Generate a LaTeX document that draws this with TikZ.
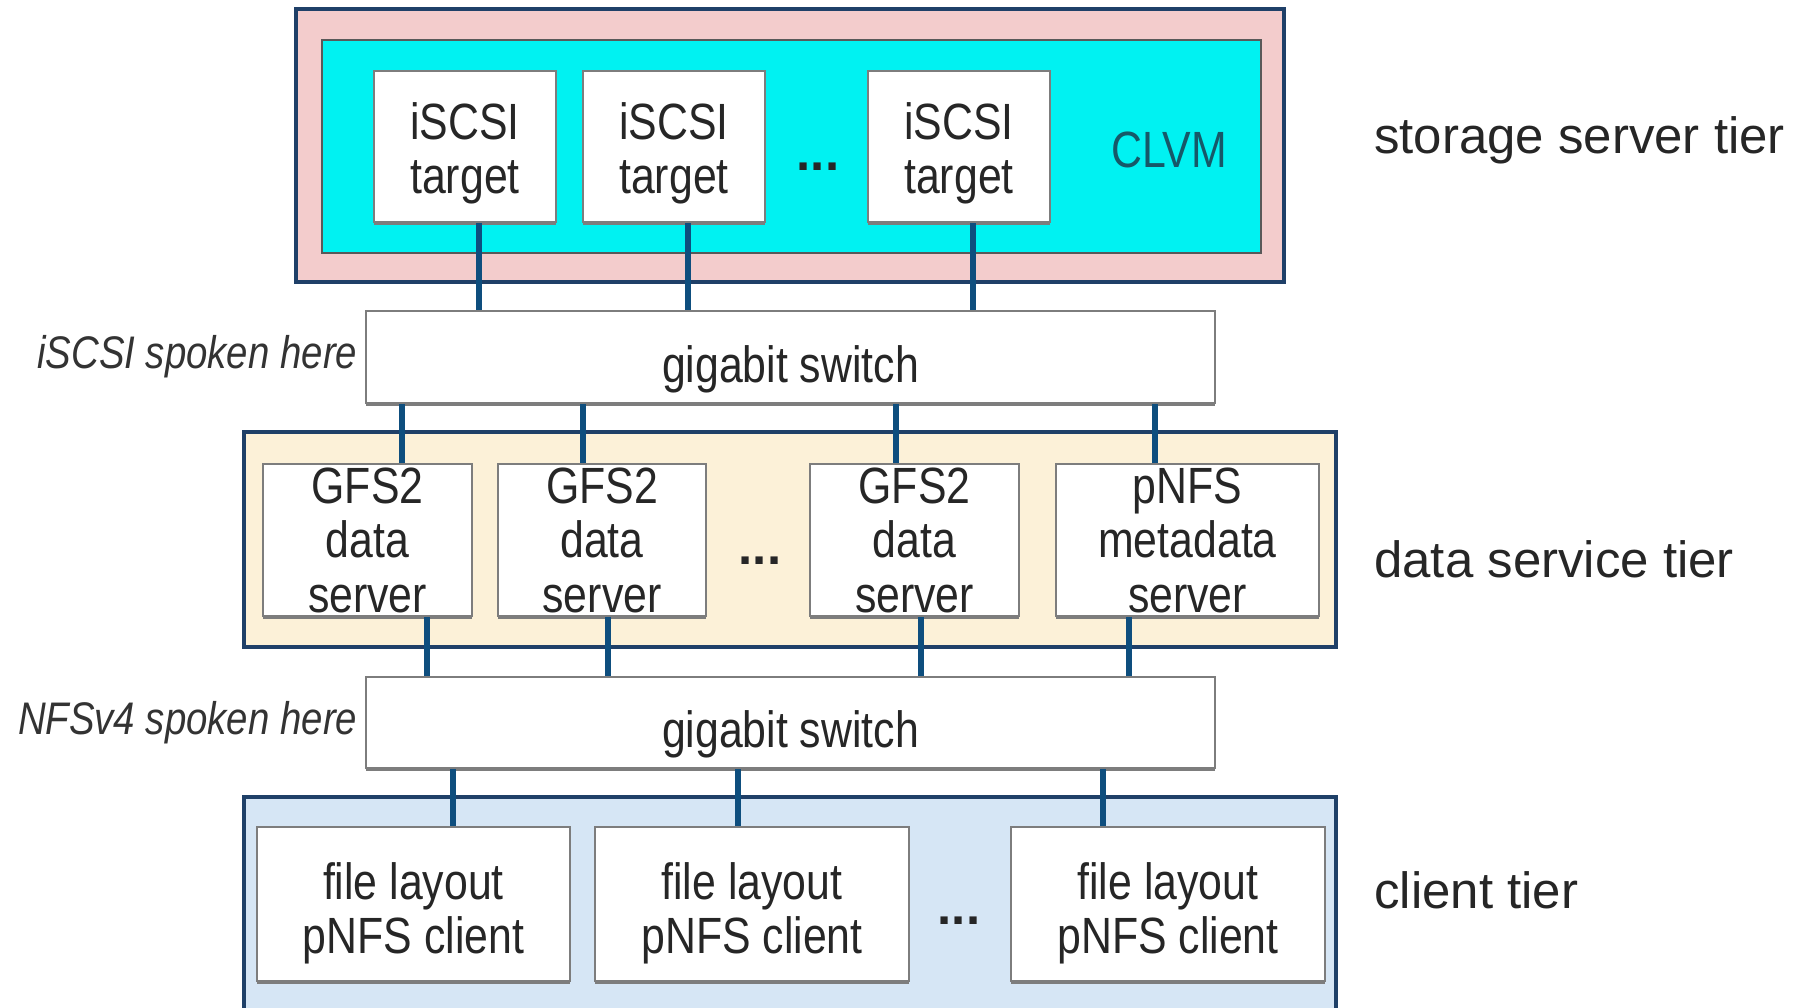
\documentclass[tikz,border=0pt]{standalone}
\usepackage{fontspec}
\setmainfont{Liberation Sans}
\newfontfamily\narrowfont[FakeStretch=0.84]{Liberation Sans}
\usetikzlibrary{positioning,shadows}

\definecolor{tiernavy}{RGB}{31,64,104}
\definecolor{linkblue}{RGB}{14,78,126}
\definecolor{storepink}{RGB}{243,204,204}
\definecolor{lvmcyan}{RGB}{0,242,242}
\definecolor{datacream}{RGB}{252,241,216}
\definecolor{clientblue}{RGB}{214,230,245}
\definecolor{boxgray}{RGB}{125,125,125}
\definecolor{clvmteal}{RGB}{22,88,104}

% taller first line, pushes the box text down a bit
\newcommand\capstrut[1]{\rule{0pt}{#1}}

\tikzset{
  tier/.style={draw=tiernavy, line width=2.8pt},
  unit/.style={draw=boxgray, fill=white, line width=1.6pt, align=center, inner sep=0pt,
    font=\narrowfont\fontsize{29}{31}\selectfont, text=black!85,
    drop shadow={shadow xshift=0pt, shadow yshift=-1.8pt, fill=boxgray, opacity=1}},
  link/.style={draw=linkblue, line width=3.4pt},
  dots/.style={font=\fontsize{29}{31}\selectfont\bfseries, text=black!85},
  tierlabel/.style={anchor=west, font=\fontsize{29}{31}\selectfont, text=black!85},
  spoken/.style={font=\narrowfont\itshape\fontsize{26}{28}\selectfont, text=black!80, inner sep=1pt},
}

\begin{document}
\begin{tikzpicture}
    \useasboundingbox (0,0) rectangle (36.12,-20.16);
    \clip (0,0) rectangle (36.12,-20.16);

    % storage server tier: iSCSI targets inside CLVM
    \draw[tier, fill=storepink] (5.92,-0.18) rectangle (25.68,-5.64);
    \draw[draw=gray!70!black, line width=1.6pt, fill=lvmcyan] (6.44,-0.80) rectangle (25.22,-5.06);
    \node[unit, minimum width=3.64cm, minimum height=3.02cm] (t1) at (9.30,-2.93) {\capstrut{29pt}iSCSI\\target};
    \node[unit, minimum width=3.64cm, minimum height=3.02cm] (t2) at (13.48,-2.93) {\capstrut{29pt}iSCSI\\target};
    \node[unit, minimum width=3.64cm, minimum height=3.02cm] (t3) at (19.18,-2.93) {\capstrut{29pt}iSCSI\\target};
    \node[dots] (tdots) at (16.36,-3.34) {...};
    \node[font=\narrowfont\fontsize{29}{31}\selectfont, text=clvmteal] (clvm) at (23.38,-3.0) {CLVM};
    \node[tierlabel] (storage) at (27.36,-2.80) {storage server tier};

    % upper switch
    \node[unit, minimum width=16.98cm, minimum height=1.84cm] (sw1) at (15.81,-7.14) {\capstrut{35pt}gigabit switch};
    \node[spoken, left=3pt of sw1] (iscsi) {iSCSI spoken here};

    % data service tier
    \draw[tier, fill=datacream] (4.88,-8.64) rectangle (26.72,-12.94);
    \node[unit, minimum width=4.18cm, minimum height=3.04cm] (d1) at (7.35,-10.80) {GFS2\\data\\server};
    \node[unit, minimum width=4.16cm, minimum height=3.04cm] (d2) at (12.04,-10.80) {GFS2\\data\\server};
    \node[unit, minimum width=4.18cm, minimum height=3.04cm] (d3) at (18.29,-10.80) {GFS2\\data\\server};
    \node[unit, minimum width=5.26cm, minimum height=3.04cm] (d4) at (23.75,-10.80) {pNFS\\metadata\\server};
    \node[dots] (ddots) at (15.20,-11.22) {...};
    \node[tierlabel] (dataserv) at (27.36,-11.18) {data service tier};

    % lower switch
    \node[unit, minimum width=16.98cm, minimum height=1.82cm] (sw2) at (15.81,-14.45) {\capstrut{35pt}gigabit switch};
    \node[spoken, left=3pt of sw2] (nfs) {NFSv4 spoken here};

    % client tier
    \draw[tier, fill=clientblue] (4.88,-15.94) rectangle (26.72,-20.60);
    \node[unit, minimum width=6.26cm, minimum height=3.08cm] (c1) at (8.27,-18.08) {\capstrut{31.5pt}file layout\\pNFS client};
    \node[unit, minimum width=6.28cm, minimum height=3.08cm] (c2) at (15.04,-18.08) {\capstrut{31.5pt}file layout\\pNFS client};
    \node[unit, minimum width=6.28cm, minimum height=3.08cm] (c3) at (23.36,-18.08) {\capstrut{31.5pt}file layout\\pNFS client};
    \node[dots] (cdots) at (19.18,-18.42) {...};
    \node[tierlabel] (client) at (27.36,-17.80) {client tier};

    % network links
    \foreach \x/\n in {9.58/t1, 13.76/t2, 19.46/t3}
        \draw[link] (\n.south -| \x,0) -- (sw1.north -| \x,0);
    \foreach \x/\n in {8.04/d1, 11.66/d2, 17.92/d3, 23.10/d4}
        \draw[link] (sw1.south -| \x,0) -- (\n.north -| \x,0);
    \foreach \x/\n in {8.54/d1, 12.16/d2, 18.42/d3, 22.58/d4}
        \draw[link] (\n.south -| \x,0) -- (sw2.north -| \x,0);
    \foreach \x/\n in {9.06/c1, 14.76/c2, 22.06/c3}
        \draw[link] (sw2.south -| \x,0) -- (\n.north -| \x,0);
\end{tikzpicture}
\end{document}
